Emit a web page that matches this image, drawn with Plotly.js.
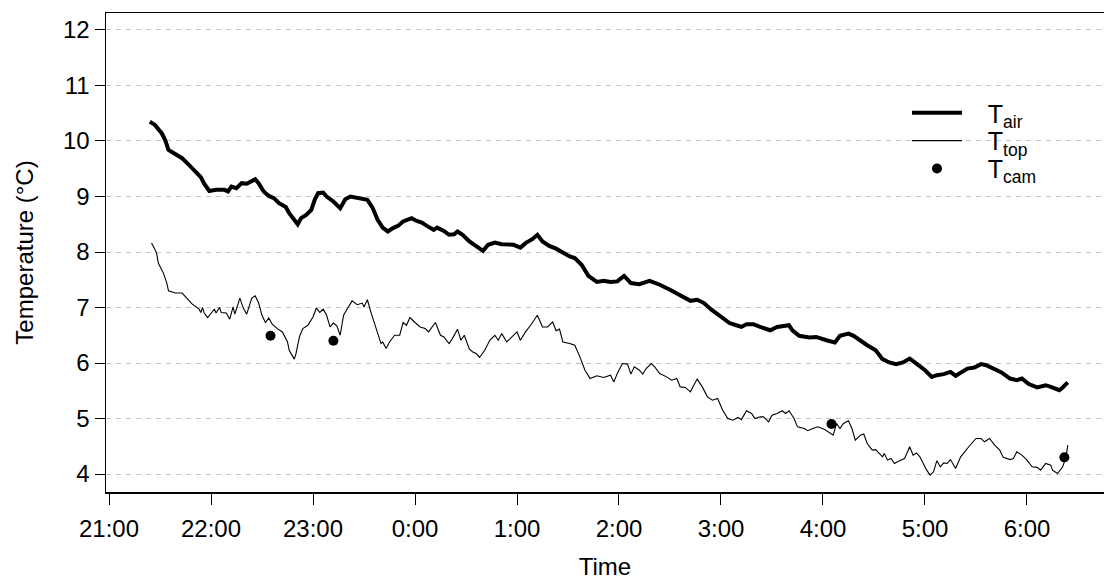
<!DOCTYPE html>
<html>
<head>
<meta charset="utf-8">
<script src="https://cdn.plot.ly/plotly-3.0.1.min.js"></script>
<style>html,body{margin:0;padding:0;background:#fff;}#chart{width:1104px;height:580px;}</style>
</head>
<body>
<div id="chart"></div>
<script>
// ---- data (clock time "H:MM", temperature in °C) ----
const airTimes = [
"21:24","21:27","21:31","21:33","21:35","21:38","21:41","21:43","21:46","21:50",
"21:54","21:56","21:59","22:03","22:08","22:10","22:12","22:15","22:18","22:21",
"22:23","22:26","22:28","22:31","22:34","22:37","22:40","22:44","22:46","22:49",
"22:51","22:53","22:56","22:59","23:01","23:03","23:06","23:08","23:12","23:16",
"23:19","23:22","23:28","23:32","23:35","23:38","23:41","23:44","23:47","23:50",
"23:53","23:58","0:01","0:04","0:07","0:11","0:13","0:17","0:20","0:23",
"0:25","0:28","0:32","0:36","0:40","0:43","0:47","0:51","0:54","0:58",
"1:02","1:05","1:09","1:12","1:15","1:19","1:23","1:27","1:31","1:34",
"1:38","1:42","1:47","1:51","1:55","1:59","2:03","2:07","2:12","2:18",
"2:24","2:30","2:36","2:42","2:46","2:50","2:54","2:59","3:05","3:09",
"3:12","3:15","3:19","3:23","3:29","3:33","3:40","3:42","3:46","3:52",
"3:56","4:02","4:07","4:10","4:15","4:18","4:22","4:26","4:31","4:35",
"4:39","4:43","4:47","4:51","4:55","5:00","5:04","5:07","5:11","5:15",
"5:18","5:22","5:25","5:29","5:33","5:36","5:40","5:45","5:50","5:54",
"5:57","6:01","6:06","6:11","6:14","6:19","6:21","6:24"];
const airTemp = [
10.35,10.29,10.14,10.02,9.84,9.78,9.73,9.69,9.60,9.48,
9.35,9.23,9.10,9.12,9.12,9.09,9.18,9.15,9.24,9.23,
9.27,9.31,9.24,9.09,9.01,8.97,8.88,8.81,8.70,8.58,
8.50,8.61,8.67,8.76,8.94,9.06,9.07,9.00,8.91,8.79,
8.95,9.00,8.97,8.94,8.80,8.58,8.44,8.37,8.43,8.47,
8.55,8.61,8.56,8.53,8.47,8.40,8.44,8.38,8.31,8.32,
8.37,8.31,8.19,8.10,8.02,8.13,8.17,8.14,8.14,8.13,
8.08,8.16,8.23,8.31,8.19,8.11,8.06,7.98,7.92,7.89,
7.77,7.57,7.46,7.48,7.46,7.47,7.57,7.44,7.42,7.48,
7.41,7.32,7.21,7.12,7.14,7.08,6.97,6.86,6.72,6.68,
6.65,6.70,6.70,6.65,6.59,6.65,6.68,6.59,6.49,6.46,
6.47,6.41,6.37,6.49,6.53,6.49,6.40,6.32,6.23,6.07,
6.01,5.98,6.01,6.08,5.99,5.87,5.75,5.78,5.80,5.84,
5.77,5.84,5.90,5.92,5.98,5.96,5.90,5.83,5.72,5.69,
5.72,5.62,5.56,5.60,5.57,5.51,5.56,5.65];

const topTimes = [
"21:25","21:26","21:28","21:29","21:32","21:34","21:35","21:37","21:39","21:43",
"21:46","21:49","21:53","21:54","21:55","21:56","21:58","22:00","22:02","22:03",
"22:05","22:06","22:09","22:11","22:13","22:14","22:17","22:19","22:21","22:24",
"22:26","22:28","22:30","22:32","22:34","22:36","22:39","22:42","22:45","22:46",
"22:49","22:50","22:52","22:54","22:57","23:00","23:02","23:04","23:06","23:08",
"23:10","23:12","23:14","23:16","23:18","23:20","23:23","23:26","23:29","23:30",
"23:32","23:34","23:36","23:38","23:40","23:41","23:43","23:45","23:48","23:51",
"23:53","23:55","23:57","0:00","0:03","0:06","0:08","0:12","0:15","0:17",
"0:20","0:22","0:25","0:27","0:29","0:32","0:34","0:36","0:38","0:41",
"0:44","0:47","0:49","0:51","0:54","0:57","1:00","1:02","1:05","1:08",
"1:12","1:15","1:18","1:21","1:23","1:25","1:27","1:31","1:34","1:37",
"1:40","1:43","1:47","1:51","1:55","1:57","1:59","2:02","2:05","2:07",
"2:09","2:12","2:14","2:16","2:19","2:21","2:24","2:28","2:31","2:34",
"2:36","2:39","2:42","2:44","2:46","2:49","2:52","2:55","2:58","3:01",
"3:04","3:07","3:10","3:12","3:15","3:18","3:20","3:23","3:25","3:28",
"3:30","3:33","3:36","3:38","3:40","3:43","3:45","3:49","3:51","3:54",
"3:57","4:01","4:04","4:06","4:08","4:10","4:12","4:15","4:17","4:19",
"4:22","4:24","4:26","4:29","4:31","4:33","4:35","4:36","4:38","4:40",
"4:42","4:45","4:48","4:51","4:53","4:55","4:57","4:59","5:01","5:03",
"5:05","5:07","5:09","5:11","5:13","5:15","5:18","5:21","5:24","5:26",
"5:30","5:33","5:35","5:38","5:41","5:44","5:46","5:50","5:52","5:54",
"5:57","6:00","6:03","6:06","6:08","6:11","6:14","6:15","6:18","6:20",
"6:21","6:23","6:24"];
const topTemp = [
8.16,8.11,7.98,7.80,7.62,7.44,7.30,7.28,7.26,7.26,
7.15,7.06,6.97,6.91,7.00,6.90,6.82,6.90,6.97,6.90,
7.00,6.91,6.90,6.79,7.01,6.88,7.17,6.99,6.88,7.17,
7.21,7.08,6.86,6.73,6.81,6.70,6.62,6.56,6.38,6.23,
6.07,6.17,6.47,6.62,6.68,6.83,6.99,6.91,6.97,6.86,
6.65,6.72,6.67,6.50,6.86,6.97,7.12,7.05,7.08,7.01,
7.14,6.92,6.72,6.53,6.35,6.38,6.26,6.38,6.50,6.50,
6.73,6.68,6.82,6.73,6.65,6.62,6.56,6.73,6.50,6.47,
6.35,6.44,6.61,6.41,6.50,6.25,6.20,6.17,6.10,6.23,
6.41,6.50,6.41,6.53,6.38,6.47,6.56,6.41,6.56,6.68,
6.86,6.65,6.65,6.74,6.58,6.61,6.38,6.35,6.32,6.11,
5.87,5.72,5.77,5.74,5.78,5.66,5.81,5.99,5.98,5.80,
5.93,5.87,5.80,5.90,5.99,5.93,5.81,5.75,5.69,5.72,
5.57,5.56,5.48,5.60,5.71,5.57,5.39,5.33,5.36,5.15,
5.00,4.97,5.02,4.98,5.14,5.09,5.00,5.03,5.03,4.94,
5.06,5.09,5.14,5.09,5.14,5.00,4.85,4.82,4.78,4.82,
4.85,4.80,4.73,4.70,4.91,4.82,4.91,4.96,4.82,4.61,
4.70,4.72,4.55,4.43,4.44,4.37,4.31,4.37,4.25,4.28,
4.19,4.24,4.28,4.49,4.34,4.38,4.31,4.19,4.07,3.98,
4.04,4.24,4.13,4.20,4.19,4.26,4.10,4.31,4.43,4.50,
4.64,4.64,4.58,4.64,4.52,4.43,4.30,4.26,4.28,4.40,
4.34,4.25,4.13,4.12,4.07,4.19,4.16,4.07,4.01,4.10,
4.13,4.31,4.52];

const camTimes = ["22:35","23:12","4:05","6:22"];
const camTemp  = [6.49, 6.40, 4.90, 4.30];

const seriesNames = ["T<sub>air</sub>", "T<sub>top</sub>", "T<sub>cam</sub>"];
const tickLabels = ["21:00","22:00","23:00","0:00","1:00","2:00","3:00","4:00","5:00","6:00"];
const yTicks = [4,5,6,7,8,9,10,11,12];

// convert clock strings to continuous hours (night runs past midnight)
function toHours(s){
  const p = s.split(":");
  let h = parseInt(p[0],10);
  if (h < 12) h += 24;
  return h + parseInt(p[1],10)/60;
}
const tickVals = tickLabels.map(toHours);

const FONT = "Liberation Sans, Arial, Helvetica, sans-serif";
const PAD = "\u00a0\u00a0\u00a0";

const traces = [
  {x: airTimes.map(toHours), y: airTemp, type: "scatter", mode: "lines",
   name: PAD + seriesNames[0], legend: "legend", line: {color: "#000", width: 4}},
  {x: topTimes.map(toHours), y: topTemp, type: "scatter", mode: "lines",
   name: PAD + seriesNames[1], legend: "legend2", line: {color: "#000", width: 1.1}},
  {x: camTimes.map(toHours), y: camTemp, type: "scatter", mode: "markers",
   name: PAD + seriesNames[2], legend: "legend3", marker: {color: "#000", size: 10}}
];

function legendAt(y){
  return {x: 0.8026, xanchor: "left", y: y, yanchor: "top",
          bgcolor: "rgba(0,0,0,0)", borderwidth: 0,
          font: {family: FONT, size: 25, color: "#000"},
          itemwidth: 50};
}

const layout = {
  width: 1104, height: 580,
  margin: {l: 106, r: 0, t: 13, b: 88},
  paper_bgcolor: "#fff", plot_bgcolor: "#fff",
  font: {family: FONT, color: "#000", size: 24},
  showlegend: true,
  legend: legendAt(0.839),
  legend2: legendAt(0.781),
  legend3: legendAt(0.723),
  xaxis: {
    range: [20.9706, 30.755], tickvals: tickVals, ticktext: tickLabels,
    ticks: "outside", ticklen: 11, tickwidth: 1, tickcolor: "#000",
    ticklabelstandoff: 4,
    showline: true, linecolor: "#000", linewidth: 1.5, mirror: true,
    showgrid: false, zeroline: false,
    tickfont: {family: FONT, size: 24, color: "#000"},
    title: {text: "Time", font: {family: FONT, size: 24, color: "#000"}, standoff: 24}
  },
  yaxis: {
    range: [3.676, 12.306], tickvals: yTicks,
    ticks: "outside", ticklen: 10, tickwidth: 1, tickcolor: "#000",
    showline: true, linecolor: "#000", linewidth: 1.5, mirror: false,
    showgrid: true, gridcolor: "#c4c4c4", gridwidth: 1, griddash: "5px,5px",
    zeroline: false,
    tickfont: {family: FONT, size: 24, color: "#000"},
    title: {text: "Temperature (°C)", font: {family: FONT, size: 24, color: "#000"}, standoff: 22}
  }
};

Plotly.newPlot("chart", traces, layout, {displayModeBar: false, staticPlot: true});
</script>
</body>
</html>
